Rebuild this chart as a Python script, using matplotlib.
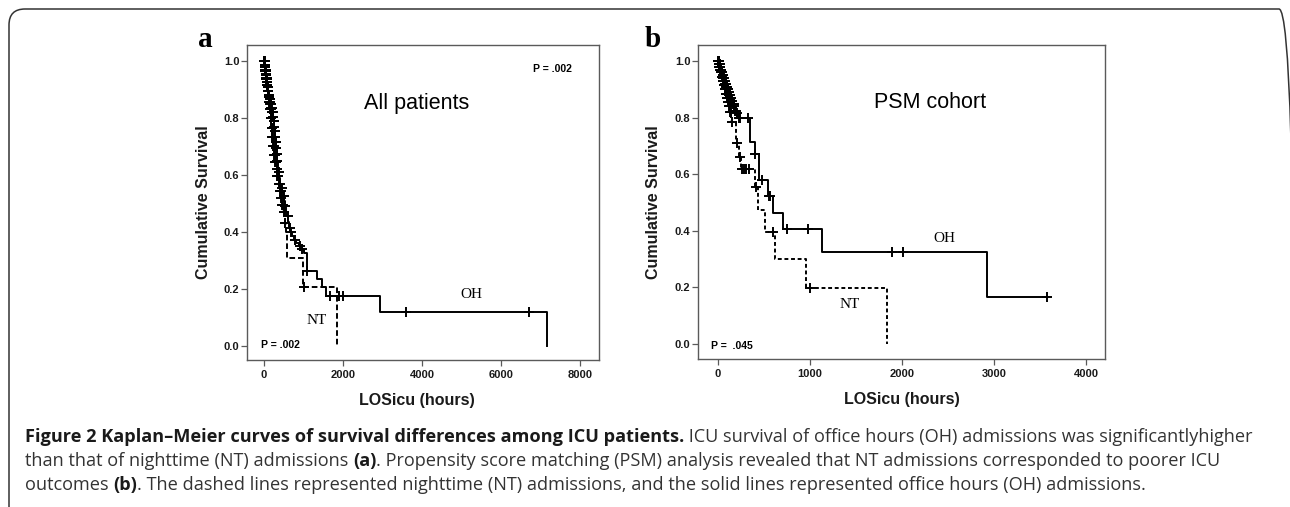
import numpy as np
import matplotlib
matplotlib.use("Agg")
import matplotlib.pyplot as plt
import matplotlib.font_manager as fm
from matplotlib.patches import FancyBboxPatch
from matplotlib.transforms import IdentityTransform

# ---------------- data ----------------
# Panel a: all patients. Step times (hours) and survival after each step
oh_a_t = [0, 15, 30, 45, 60, 75, 90, 105, 120, 140, 160, 180, 200, 220, 240, 260, 275, 290, 300, 310,
          320, 330, 345, 365, 385, 405, 430, 455, 480, 505, 530, 555, 580, 610, 640, 670, 710, 760, 820, 880,
          950, 1010, 1090, 1350, 1460, 1560, 2940, 7160]
oh_a_s = [1.0, .985, .97, .955, .94, .925, .91, .895, .88, .865, .85, .835, .82, .805, .79, .77, .755, .735, .715, .695,
          .675, .65, .63, .61, .59, .57, .555, .54, .525, .51, .49, .47, .455, .435, .415, .40, .385, .372, .36, .35,
          .34, .325, .262, .234, .208, .175, .119, 0.0]
oh_a_cens = [1, 3, 5, 7, 9, 11, 13, 15, 18, 21, 24, 27, 30, 33, 36, 40, 44, 48, 52, 56, 60, 64, 68, 72, 77,
             82, 87, 92, 97, 102, 108, 114, 120, 126, 132, 139, 146, 153, 160, 168, 176, 184, 192, 200, 209,
             218, 227, 236, 246, 256, 266, 278, 290, 300, 306, 312, 316, 320, 324, 330, 340, 370, 410, 450,
             500, 540, 600, 650, 690, 780, 900, 960, 1100, 1670, 1910, 2010, 3600, 6700]

nt_a_t = [0, 15, 30, 45, 60, 75, 90, 110, 130, 150, 170, 190, 210, 235, 260, 285, 310, 340, 370, 400,
          430, 460, 490, 520, 560, 590, 979, 1840]
nt_a_s = [1.0, .98, .965, .95, .935, .915, .895, .875, .855, .83, .80, .765, .735, .70, .67, .645, .62, .595, .57, .545,
          .52, .495, .47, .43, .40, .31, .208, 0.0]
nt_a_cens = [2, 6, 10, 15, 20, 25, 30, 35, 41, 48, 54, 60, 66, 72, 78, 85, 92, 100, 108, 118, 126, 135, 145,
             155, 165, 175, 185, 195, 205, 215, 228, 240, 252, 265, 278, 290, 305, 320, 340, 360, 380, 400,
             420, 440, 460, 480, 510, 540, 1012]

# Panel b: PSM cohort
oh_b_t = [0, 10, 20, 30, 40, 50, 60, 70, 80, 90, 100, 112, 124, 136, 148, 160, 172, 185, 200, 215,
          348, 402, 449, 547, 594, 710, 1127, 2928]
oh_b_s = [1.0, .99, .98, .97, .96, .95, .94, .93, .92, .91, .90, .89, .88, .87, .86, .85, .84, .825, .815, .80,
          .715, .671, .58, .523, .464, .406, .325, .166]
oh_b_cens = [1, 3, 5, 7, 9, 11, 13, 15, 18, 21, 24, 27, 30, 33, 36, 40, 44, 48, 52, 56, 60, 65, 70, 75, 80,
             86, 92, 98, 104, 110, 117, 124, 131, 138, 146, 154, 162, 170, 178, 186, 195, 205, 225, 240,
             330, 402, 475, 555, 570, 747, 982, 1890, 2016, 3572]

nt_b_t = [0, 8, 16, 24, 32, 42, 52, 62, 72, 84, 96, 108, 120, 132, 145, 195, 230, 250, 402, 438, 511, 620, 957, 1840]
nt_b_s = [1.0, .99, .98, .97, .96, .945, .93, .915, .90, .885, .87, .855, .84, .82, .786, .71, .66, .62,
          .556, .473, .397, .30, .197, 0.0]
nt_b_cens = [2, 5, 8, 12, 16, 20, 25, 30, 35, 40, 46, 52, 58, 64, 71, 78, 85, 92, 99, 106, 113, 120, 128,
             135, 140, 150, 203, 240, 262, 285, 310, 335, 410, 601, 1000]

yticks = [0.0, 0.2, 0.4, 0.6, 0.8, 1.0]
xticks_a = [0, 2000, 4000, 6000, 8000]
xticks_b = [0, 1000, 2000, 3000, 4000]

# ---------------- figure ----------------
W, H = 1290, 507
plt.rcParams['font.family'] = ['Liberation Sans', 'DejaVu Sans']
fig = plt.figure(figsize=(W / 100, H / 100), dpi=100)
fig.patch.set_facecolor('white')


def fx(x):
    return x / W


def fy(y):
    return 1 - y / H


axA = fig.add_axes([fx(247), fy(360), (599 - 247) / W, (360 - 45) / H])
axB = fig.add_axes([fx(698), fy(359), (1105 - 698) / W, (359 - 45) / H])

spine_col = '#5a5a5a'


def km(ax, t, s, cens, ls):
    t = np.asarray(t, float)
    s = np.asarray(s, float)
    c = np.asarray(cens, float)
    t_end = max(t[-1], c.max())
    tt = np.append(t, t_end)
    ss = np.append(s, s[-1])
    ax.step(tt, ss, where='post', color='black', lw=1.4, linestyle=ls, zorder=3)
    idx = np.searchsorted(t, c, side='right') - 1
    ax.plot(c, s[idx], ls='none', marker='+', ms=7, mew=1.4, color='black', zorder=4)


def style(ax, xlim, ylim, xticks):
    ax.set_xlim(*xlim)
    ax.set_ylim(*ylim)
    ax.set_xticks(xticks)
    ax.set_yticks(yticks)
    ax.set_yticklabels([f"{v:.1f}" for v in yticks])
    for sp in ax.spines.values():
        sp.set_color(spine_col)
        sp.set_linewidth(1.0)
    ax.tick_params(axis='both', direction='out', length=4, width=0.9, color=spine_col,
                   labelsize=8, labelcolor='#1a1a1a')
    ax.tick_params(axis='x', pad=3)
    ax.tick_params(axis='y', pad=1.5)
    for lab in ax.get_xticklabels() + ax.get_yticklabels():
        lab.set_fontweight('bold')


km(axA, nt_a_t, nt_a_s, nt_a_cens, (0, (2.9, 1.5)))
km(axA, oh_a_t, oh_a_s, oh_a_cens, '-')
style(axA, (-430, 8480), (-0.049, 1.056), xticks_a)

km(axB, nt_b_t, nt_b_s, nt_b_cens, (0, (2.0, 1.4)))
km(axB, oh_b_t, oh_b_s, oh_b_cens, '-')
style(axB, (-217, 4207), (-0.053, 1.057), xticks_b)

for ax, xc in ((axA, (417 - 247) / 352), (axB, 0.5)):
    ax.set_xlabel('LOSicu (hours)', fontsize=11.5, fontweight='bold', color='#1a1a1a')
    ax.xaxis.set_label_coords(xc, -(401 - 360) / 315)
    ax.xaxis.label.set_va('center')
    ax.set_ylabel('Cumulative Survival', fontsize=11.5, fontweight='bold', color='#1a1a1a')
    ax.yaxis.label.set_va('center')
axA.yaxis.set_label_coords(-(247 - 204) / 352, 0.5)
axB.yaxis.set_label_coords(-(698 - 654) / 407, 0.5)

# panel letters
fig.text(fx(205), fy(47), 'a', fontsize=21, fontweight='bold', family='Liberation Serif',
         ha='center', va='baseline')
fig.text(fx(653), fy(47), 'b', fontsize=21, fontweight='bold', family='Liberation Serif',
         ha='center', va='baseline')

# annotations
fig.text(fx(572), fy(69), 'P = .002', fontsize=7.5, fontweight='bold', ha='right', va='center')
fig.text(fx(261), fy(345), 'P = .002', fontsize=7.5, fontweight='bold', ha='left', va='center')
fig.text(fx(711), fy(346), 'P =  .045', fontsize=7.5, fontweight='bold', ha='left', va='center')
fig.text(fx(417), fy(104), 'All patients', fontsize=15.5, ha='center', va='center')
fig.text(fx(930), fy(103), 'PSM cohort', fontsize=15.5, ha='center', va='center')
for (x, y, s) in ((471, 295, 'OH'), (317, 320, 'NT'), (944, 238, 'OH'), (850, 305, 'NT')):
    fig.text(fx(x), fy(y), s, fontsize=11, family='Liberation Serif', ha='center', va='center')

# outer rounded frame (right side falls just outside the image)
frame = FancyBboxPatch((9, -30), 1295 - 9, (H - 9) + 30, boxstyle='round,pad=0,rounding_size=16',
                       transform=IdentityTransform(), fill=False, ec='#333333', lw=1.1)
fig.add_artist(frame)

# caption
names = {f.name for f in fm.fontManager.ttflist}
cap_family = next((n for n in ['Open Sans', 'Noto Sans', 'DejaVu Sans'] if n in names), 'DejaVu Sans')
renderer = fig.canvas.get_renderer()

cap_lines = [
    [("Figure 2 Kaplan\u2013Meier curves of survival differences among ICU patients.", 'bold'),
     (" ICU survival of office hours (OH) admissions was significantlyhigher", 'normal')],
    [("than that of nighttime (NT) admissions ", 'normal'), ("(a)", 'bold'),
     (". Propensity score matching (PSM) analysis revealed that NT admissions corresponded to poorer ICU", 'normal')],
    [("outcomes ", 'normal'), ("(b)", 'bold'),
     (". The dashed lines represented nighttime (NT) admissions, and the solid lines represented office hours (OH) admissions.", 'normal')],
]
cap_targets = [1272 - 25, 1216 - 25, 1133 - 25]
cap_base = [442, 466, 490]


def adv(txt, fs, weight):
    t = fig.text(0, 0, txt + '|', fontsize=fs, fontweight=weight, family=cap_family)
    w1 = t.get_window_extent(renderer).width
    t.set_text('|')
    w2 = t.get_window_extent(renderer).width
    t.remove()
    return w1 - w2


fs0 = 10.0
tot = [sum(adv(s, fs0, w) for s, w in line) for line in cap_lines]
fs = fs0 * sum(cap_targets) / sum(tot)
for line, yb in zip(cap_lines, cap_base):
    x = 25.0
    for s, w in line:
        fig.text(fx(x), fy(yb), s, fontsize=fs, fontweight=w, family=cap_family,
                 color='#1a1a1a' if w == 'bold' else '#333333', ha='left', va='baseline')
        x += adv(s, fs, w)

fig.savefig('out.png', dpi=100, facecolor='white')
